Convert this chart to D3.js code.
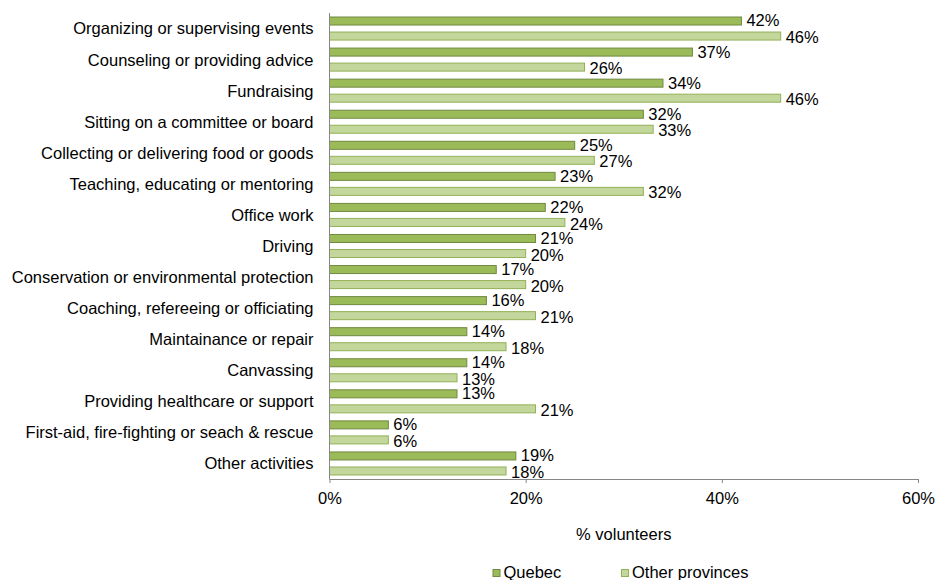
<!DOCTYPE html>
<html>
<head>
<meta charset="utf-8">
<script src="https://cdn.jsdelivr.net/npm/d3@7"></script>
<style>
  html, body { margin: 0; padding: 0; background: #fff; }
  svg { display: block; font-family: "Liberation Sans", Arial, sans-serif; }
</style>
</head>
<body>
<svg id="chart" width="935" height="580"></svg>
<script>
// Volunteer activities: share of volunteers doing each activity
const categories = [
  "Organizing or supervising events",
  "Counseling or providing advice",
  "Fundraising",
  "Sitting on a committee or board",
  "Collecting or delivering food or goods",
  "Teaching, educating or mentoring",
  "Office work",
  "Driving",
  "Conservation or environmental protection",
  "Coaching, refereeing or officiating",
  "Maintainance or repair",
  "Canvassing",
  "Providing healthcare or support",
  "First-aid, fire-fighting or seach & rescue",
  "Other activities"
];
const seriesNames = ["Quebec", "Other provinces"];
const quebec = [42, 37, 34, 32, 25, 23, 22, 21, 17, 16, 14, 14, 13, 6, 19];
const otherProvinces = [46, 26, 46, 33, 27, 32, 24, 20, 20, 21, 18, 13, 21, 6, 18];
const xTicks = [0, 20, 40, 60];
const axisTitle = "% volunteers";

const fills = ["#9bbb59", "#c3d69b"];
const strokes = ["#71893f", "#93b158"];
const fontSize = 16.5;

const svg = d3.select("#chart");
const plotLeft = 329.5, plotRight = 918, plotTop = 13, plotBottom = 479;

const x = d3.scaleLinear().domain([0, 60]).range([plotLeft, plotRight]);
const y0 = d3.scaleBand().domain(categories).range([plotTop, plotBottom])
  .paddingInner(0.226).paddingOuter(0.113);
const y1 = d3.scaleBand().domain(seriesNames).range([0, y0.bandwidth()])
  .paddingInner(0.4).paddingOuter(0);

const rows = categories.map((c, i) => ({
  cat: c,
  vals: [
    { s: seriesNames[0], v: quebec[i], k: 0 },
    { s: seriesNames[1], v: otherProvinces[i], k: 1 }
  ]
}));

// Bars and value labels
const g = svg.append("g").selectAll("g").data(rows).join("g")
  .attr("transform", d => `translate(0,${y0(d.cat)})`);

g.selectAll("rect").data(d => d.vals).join("rect")
  .attr("x", x(0))
  .attr("y", d => y1(d.s) + 0.5)
  .attr("width", d => x(d.v) - x(0))
  .attr("height", y1.bandwidth() - 1)
  .attr("fill", d => fills[d.k])
  .attr("stroke", d => strokes[d.k])
  .attr("stroke-width", 1);

g.selectAll("text").data(d => d.vals).join("text")
  .attr("x", d => x(d.v) + 5)
  .attr("y", d => y1(d.s) + y1.bandwidth() / 2)
  .attr("dy", d => d.k === 0 ? "0.33em" : "0.43em")
  .attr("font-size", fontSize)
  .attr("fill", "#000")
  .text(d => d.v + "%");

// Category labels
svg.append("g").selectAll("text").data(categories).join("text")
  .attr("x", plotLeft - 16)
  .attr("y", d => y0(d) + y0.bandwidth() / 2)
  .attr("dy", "0.36em")
  .attr("text-anchor", "end")
  .attr("font-size", fontSize)
  .attr("fill", "#000")
  .text(d => d);

// Vertical category axis line
svg.append("line")
  .attr("x1", plotLeft).attr("x2", plotLeft)
  .attr("y1", plotTop).attr("y2", plotBottom)
  .attr("stroke", "#868686").attr("stroke-width", 1);

// Value axis
const xAxis = d3.axisBottom(x).tickValues(xTicks).tickFormat(d => d + "%")
  .tickSize(4).tickPadding(9);
const ax = svg.append("g").attr("transform", `translate(0,${plotBottom})`).call(xAxis);
ax.select(".domain").attr("stroke", "#868686").attr("d", `M${plotLeft},0.5H${plotRight}`);
ax.selectAll(".tick line").attr("stroke", "#868686");
ax.selectAll(".tick text").attr("font-size", fontSize).attr("fill", "#000")
  .attr("font-family", "Liberation Sans, Arial, sans-serif");

svg.append("text")
  .attr("x", (plotLeft + plotRight) / 2).attr("y", 540)
  .attr("text-anchor", "middle")
  .attr("font-size", fontSize).attr("fill", "#000")
  .text(axisTitle);

// Legend
const legendX = [492.5, 621];
const lg = svg.append("g").selectAll("g").data(seriesNames).join("g")
  .attr("transform", (d, i) => `translate(${legendX[i]},569)`);
lg.append("rect").attr("x", 0.5).attr("y", 0.5).attr("width", 7).attr("height", 7)
  .attr("fill", (d, i) => fills[i]).attr("stroke", (d, i) => strokes[i]);
lg.append("text").attr("x", 11).attr("y", 8.5)
  .attr("font-size", fontSize).attr("fill", "#000").text(d => d);
</script>
</body>
</html>
